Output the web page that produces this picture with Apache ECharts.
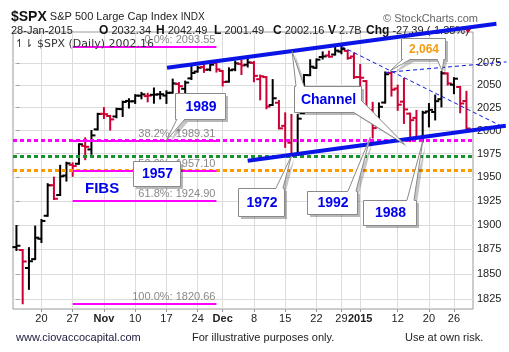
<!DOCTYPE html>
<html>
<head>
<meta charset="utf-8">
<script src="https://cdn.jsdelivr.net/npm/echarts@6/dist/echarts.min.js"></script>
<style>
html, body { margin: 0; padding: 0; background: #fff; }
#main { width: 509px; height: 352px; }
</style>
</head>
<body>
<div id="main"></div>
<script>
// daily $SPX, 14-Oct-2014 .. 28-Jan-2015
var dates = [
    '2014-10-14','2014-10-15','2014-10-16','2014-10-17','2014-10-20','2014-10-21','2014-10-22','2014-10-23','2014-10-24','2014-10-27','2014-10-28','2014-10-29','2014-10-30','2014-10-31',
    '2014-11-03','2014-11-04','2014-11-05','2014-11-06','2014-11-07','2014-11-10','2014-11-11','2014-11-12','2014-11-13','2014-11-14','2014-11-17','2014-11-18','2014-11-19','2014-11-20','2014-11-21','2014-11-24','2014-11-25','2014-11-26','2014-11-28',
    '2014-12-01','2014-12-02','2014-12-03','2014-12-04','2014-12-05','2014-12-08','2014-12-09','2014-12-10','2014-12-11','2014-12-12','2014-12-15','2014-12-16','2014-12-17','2014-12-18','2014-12-19','2014-12-22','2014-12-23','2014-12-24','2014-12-26','2014-12-29','2014-12-30','2014-12-31',
    '2015-01-02','2015-01-05','2015-01-06','2015-01-07','2015-01-08','2015-01-09','2015-01-12','2015-01-13','2015-01-14','2015-01-15','2015-01-16','2015-01-20','2015-01-21','2015-01-22','2015-01-23','2015-01-26','2015-01-27','2015-01-28'
];
var opens = [
    1877.11,1874.18,1855.95,1864.91,1885.62,1909.38,1941.29,1931.02,1951.59,1962.97,1964.14,1983.29,1979.49,2001.20,
    2018.21,2015.81,2015.29,2023.33,2032.36,2032.01,2038.20,2037.75,2039.21,2039.74,2038.29,2041.48,2051.16,2045.87,2057.46,2065.07,2070.15,2067.36,2074.78,
    2065.78,2053.77,2067.45,2073.64,2072.78,2074.84,2056.55,2058.86,2027.92,2030.36,2005.03,1986.71,1973.77,2018.98,2061.04,2069.28,2081.48,2083.25,2084.30,2087.63,2088.49,2082.11,
    2058.90,2054.44,2022.15,2005.55,2030.61,2063.45,2046.13,2031.58,2018.40,2013.75,1992.25,2020.76,2020.19,2034.30,2062.98,2050.42,2047.86,2032.34
];
var highs = [
    1898.71,1874.18,1876.01,1898.16,1905.03,1942.45,1949.31,1961.95,1965.27,1964.64,1985.05,1991.40,1999.40,2018.19,
    2024.46,2015.98,2023.77,2031.61,2034.26,2038.70,2041.28,2040.33,2046.18,2042.22,2043.07,2056.08,2052.14,2053.84,2071.46,2070.17,2074.21,2073.29,2075.76,
    2065.78,2068.77,2076.28,2077.34,2079.47,2075.78,2060.60,2058.86,2055.53,2032.25,2018.69,2016.89,2016.75,2061.23,2077.85,2078.76,2086.73,2087.56,2092.70,2093.55,2088.49,2085.58,
    2072.36,2054.44,2030.25,2029.61,2064.08,2064.43,2049.30,2056.93,2018.40,2021.35,2020.46,2028.94,2038.29,2064.62,2062.98,2057.62,2047.86,2042.49
];
var lows = [
    1874.14,1820.66,1835.02,1864.91,1882.30,1909.38,1926.83,1931.02,1946.27,1951.37,1964.14,1969.04,1974.75,2001.20,
    2013.68,2001.01,2014.42,2015.86,2025.07,2030.17,2035.28,2031.95,2030.44,2035.20,2030.20,2041.48,2040.37,2040.49,2056.75,2065.07,2064.75,2066.62,2065.06,
    2049.57,2053.77,2066.65,2062.34,2070.81,2054.27,2034.17,2024.26,2027.92,2002.33,1982.26,1972.56,1973.77,2018.98,2061.03,2069.28,2079.77,2081.86,2084.30,2085.75,2079.53,2057.94,
    2046.04,2017.34,1992.44,2005.55,2030.61,2038.33,2022.58,2008.25,1988.44,1991.47,1988.12,2004.49,2012.04,2026.38,2050.54,2040.97,2019.91,2001.49
];
var closes = [
    1878.48,1862.49,1862.76,1886.76,1904.01,1941.28,1927.11,1950.82,1964.58,1961.63,1985.05,1982.30,1994.65,2018.05,
    2017.81,2012.10,2023.57,2031.21,2031.92,2038.26,2039.68,2038.25,2039.33,2039.82,2041.32,2051.80,2048.72,2052.75,2063.50,2069.41,2067.03,2072.83,2067.56,
    2053.44,2066.55,2074.33,2071.92,2075.37,2060.31,2059.82,2026.14,2035.33,2002.33,1989.63,1972.74,2012.89,2061.23,2070.65,2078.54,2082.17,2081.88,2088.77,2090.57,2080.35,2058.90,
    2058.20,2020.58,2002.61,2025.90,2062.14,2044.81,2028.26,2023.03,2011.27,1992.67,2019.42,2022.55,2032.12,2063.15,2051.82,2057.09,2029.55,2002.16
];
var prevClose = 1874.74;

var xTickIdx = [4, 9, 14, 19, 24, 29, 33, 38, 43, 48, 52, 55, 61, 66, 70];
var xTickText = ['20', '27', 'Nov', '10', '17', '24', 'Dec', '8', '15', '22', '29', '2015', '12', '20', '26'];
var yTicks = [1825, 1850, 1875, 1900, 1925, 1950, 1975, 2000, 2025, 2050, 2075];

var fibPct = ['0.0%', '38.2%', '50.0%', '61.8%', '100.0%'];
var fibVal = [2093.55, 1989.31, 1957.10, 1924.90, 1820.66];
var fibFrom = 9, fibTo = 32;

var levelVal = [1989.31, 1972, 1957];
var levelColor = ['#ff00ff', '#16922f', '#ff9900'];

// drawn trend lines [start, end] in (bar index, price)
var upperChannel = [[24.1, 2069.4], [76.8, 2119.6]];
var lowerChannel = [[37.0, 1967.3], [78.3, 2005.1]];
var trendDown = [[52, 2093.55], [78.1, 2003]];
var trendUp = [[59, 2064.08], [78.4, 2076]];

var RED = '#cc0033', BLUE = '#0a14e6';

var ohlc = dates.map(function (d, i) {
    var pc = i ? closes[i - 1] : prevClose;
    return [i, opens[i], closes[i], lows[i], highs[i], closes[i] < pc ? 1 : 0];
});

function renderBar(params, api) {
    var x = api.value(0);
    var o = api.coord([x, api.value(1)]);
    var c = api.coord([x, api.value(2)]);
    var l = api.coord([x, api.value(3)]);
    var h = api.coord([x, api.value(4)]);
    var col = api.value(5) ? RED : '#000';
    var st = { stroke: col, lineWidth: 2 };
    return {
        type: 'group',
        children: [
            { type: 'line', shape: { x1: h[0], y1: h[1] - 1, x2: l[0], y2: l[1] + 1 }, style: st },
            { type: 'line', shape: { x1: o[0] - 4, y1: o[1], x2: o[0], y2: o[1] }, style: st },
            { type: 'line', shape: { x1: c[0], y1: c[1], x2: c[0] + 4, y2: c[1] }, style: st }
        ]
    };
}

var markData = [];
levelVal.forEach(function (v, i) {
    markData.push({ yAxis: v, lineStyle: { color: levelColor[i], width: 3, type: [4, 3] }, label: { show: false } });
});
fibVal.forEach(function (v, i) {
    markData.push([
        { coord: [fibFrom, v], lineStyle: { color: '#ff00ff', width: 2, type: 'solid' },
          label: { show: true, position: 'insideEndTop', distance: 1, formatter: fibPct[i] + ': ' + v.toFixed(2),
                   color: '#888', fontSize: 11, fontFamily: 'Liberation Sans, Arial' } },
        { coord: [fibTo, v] }
    ]);
});

var chart = echarts.init(document.getElementById('main'));
chart.setOption({
    animation: false,
    backgroundColor: '#fff',
    textStyle: { fontFamily: 'Liberation Sans, Arial' },
    grid: { left: 13, top: 32, width: 460, height: 277, show: true, borderColor: '#9a9a9a', borderWidth: 1 },
    xAxis: {
        type: 'value', min: -0.55, max: 73.05,
        axisLine: { show: false },
        axisTick: { show: true, length: 3, lineStyle: { color: '#999' }, customValues: xTickIdx },
        axisLabel: {
            customValues: xTickIdx, margin: 4, color: '#222', fontSize: 11,
            formatter: function (v) {
                var t = xTickText[xTickIdx.indexOf(v)];
                return /^(Nov|Dec|2015)$/.test(t) ? '{b|' + t + '}' : t;
            },
            rich: { b: { fontWeight: 'bold', fontSize: 11, color: '#222' } }
        },
        splitLine: { show: true, lineStyle: { color: '#dcdcdc' } }
    },
    yAxis: {
        type: 'log', logBase: 10, min: 1815, max: 2110, position: 'right',
        axisLine: { show: false },
        axisTick: { show: true, length: 3, lineStyle: { color: '#999' }, customValues: yTicks },
        axisLabel: {
            customValues: yTicks, margin: 4, color: '#222', fontSize: 11,
            formatter: function (v) { return String(Math.round(v)); }
        },
        splitLine: { show: true, lineStyle: { color: '#dcdcdc' } }
    },
    series: [
        {
            type: 'custom', renderItem: renderBar, data: ohlc, z: 2,
            encode: { x: 0, y: [1, 2, 3, 4] }
        },
        {
            type: 'line', data: [], z: 3, silent: true,
            markLine: { symbol: 'none', silent: true, animation: false, data: markData }
        }
    ]
});

var els = [];
var px = function (p) { return chart.convertToPixel({ gridIndex: 0 }, p); };

// trend lines run past the plot frame, so they go on the graphic layer
[[trendDown, 1, [4, 3]], [trendUp, 1, [4, 3]], [upperChannel, 4, null], [lowerChannel, 4, null]].forEach(function (t) {
    var a = px(t[0][0]), b = px(t[0][1]);
    els.push({ type: 'line', z: 10, shape: { x1: a[0], y1: a[1], x2: b[0], y2: b[1] },
               style: { stroke: BLUE, lineWidth: t[1], lineDash: t[2] } });
});

// callouts: box in pixels, pointer tips anchored to data
var callouts = [
    { text: '1989', box: [175, 93, 50, 26], tips: [{ at: [24, 1989.31], base: [[177, 119], [185, 119]], inn: [0, -2] }] },
    { text: '1957', box: [133, 161, 47, 25], tips: [] },
    { text: 'Channel', box: [294, 86, 67, 26], tips: [
        { at: [44.1, 2088], base: [[296, 86], [304, 86]], inn: [0, 2] },
        { at: [62.1, 1985], base: [[361, 100], [353, 112]], inn: [-2, -2] }] },
    { text: '2,064', box: [401, 38, 44, 21], color: '#f39c12', size: 12, tips: [
        { at: [59.8, 2066], base: [[403, 59], [411, 59]], inn: [0, -2] },
        { at: [68.1, 2066], base: [[437, 59], [444, 59]], inn: [0, -2] }] },
    { text: '1972', box: [238, 188, 46, 28], tips: [{ at: [44, 1972.56], base: [[276, 188], [283, 188]], inn: [0, 2] }] },
    { text: '1992', box: [307, 191, 50, 23], tips: [{ at: [56.6, 1992.4], base: [[348, 191], [356, 191]], inn: [0, 2] }] },
    { text: '1988', box: [363, 200, 53, 25], tips: [{ at: [65, 1988.1], base: [[407, 200], [414, 200]], inn: [0, 2] }] }
];

callouts.forEach(function (c) {
    var b = c.box;
    var tips = c.tips.map(function (t) {
        return { tip: px(t.at), base: t.base, inn: t.inn };
    });
    // shadow
    els.push({ type: 'rect', z: 20, shape: { x: b[0] + 3, y: b[1] + 3, width: b[2], height: b[3] },
               style: { fill: 'rgba(0,0,0,0.28)' } });
    tips.forEach(function (t) {
        els.push({ type: 'polygon', z: 20, shape: { points: [
            [t.base[0][0] + 3, t.base[0][1] + 3], [t.tip[0] + 3, t.tip[1] + 3], [t.base[1][0] + 3, t.base[1][1] + 3]] },
            style: { fill: 'rgba(0,0,0,0.22)' } });
    });
    els.push({ type: 'rect', z: 21, shape: { x: b[0] + 0.5, y: b[1] + 0.5, width: b[2], height: b[3] },
               style: { fill: '#fff', stroke: '#8a8a8a', lineWidth: 1 } });
    tips.forEach(function (t) {
        var p1 = t.base[0], p2 = t.base[1];
        els.push({ type: 'polygon', z: 22, shape: { points: [
            [p1[0] + t.inn[0], p1[1] + t.inn[1]], p1, t.tip, p2, [p2[0] + t.inn[0], p2[1] + t.inn[1]]] },
            style: { fill: '#fff' } });
        els.push({ type: 'polyline', z: 23, shape: { points: [p1, t.tip, p2] },
            style: { stroke: '#8a8a8a', fill: null, lineWidth: 1 } });
    });
    els.push({ type: 'text', z: 24, x: b[0] + b[2] / 2 + 1, y: b[1] + b[3] / 2 + 1,
        style: { text: c.text, fill: c.color || '#0000ee', fontSize: c.size || 14, fontWeight: 'bold',
                 fontFamily: 'Liberation Sans, Arial', align: 'center', verticalAlign: 'middle' } });
});

var txt = function (x, y, s, opt) {
    var st = { text: s, fill: '#222', fontSize: 11, fontFamily: 'Liberation Sans, Arial', verticalAlign: 'middle' };
    for (var k in opt) st[k] = opt[k];
    els.push({ type: 'text', z: 5, x: x, y: y, style: st });
};

txt(85, 189, 'FIBS', { fill: '#0000ee', fontSize: 15, fontWeight: 'bold' });

// header
txt(11, 17, '{a|$SPX} S&P 500 Large Cap Index {c|INDX}', {
    rich: { a: { fontSize: 14, fontWeight: 'bold', fill: '#111' }, c: { fontSize: 10, fill: '#222' } }
});
txt(383, 19, '\u00a9 StockCharts.com', { fill: '#666', fontSize: 11 });
txt(11, 31, '28-Jan-2015');
var head = [['O', '2032.34', 99], ['H', '2042.49', 156], ['L', '2001.49', 214],
            ['C', '2002.16', 273], ['V', '2.7B', 328], ['Chg', '-27.39 (-1.35%)', 366]];
head.forEach(function (h) {
    txt(h[2], 31, '{b|' + h[0] + '} ' + h[1], { rich: { b: { fontWeight: 'bold', fontSize: 12, fill: '#111' } } });
});
els.push({ type: 'polygon', z: 5, shape: { points: [[464, 28], [472, 28], [468, 33]] }, style: { fill: RED } });
txt(15, 44, '\u21bf\u21c2 $SPX (Daily) 2002.16', { fill: '#333', fontSize: 11, fontFamily: 'DejaVu Sans' });

// footer
txt(16, 338, 'www.ciovaccocapital.com', { fill: '#1a1a3a' });
txt(192, 338, 'For illustrative purposes only.');
txt(405, 338, 'Use at own risk.');

chart.setOption({ graphic: { elements: els } });
</script>
</body>
</html>
